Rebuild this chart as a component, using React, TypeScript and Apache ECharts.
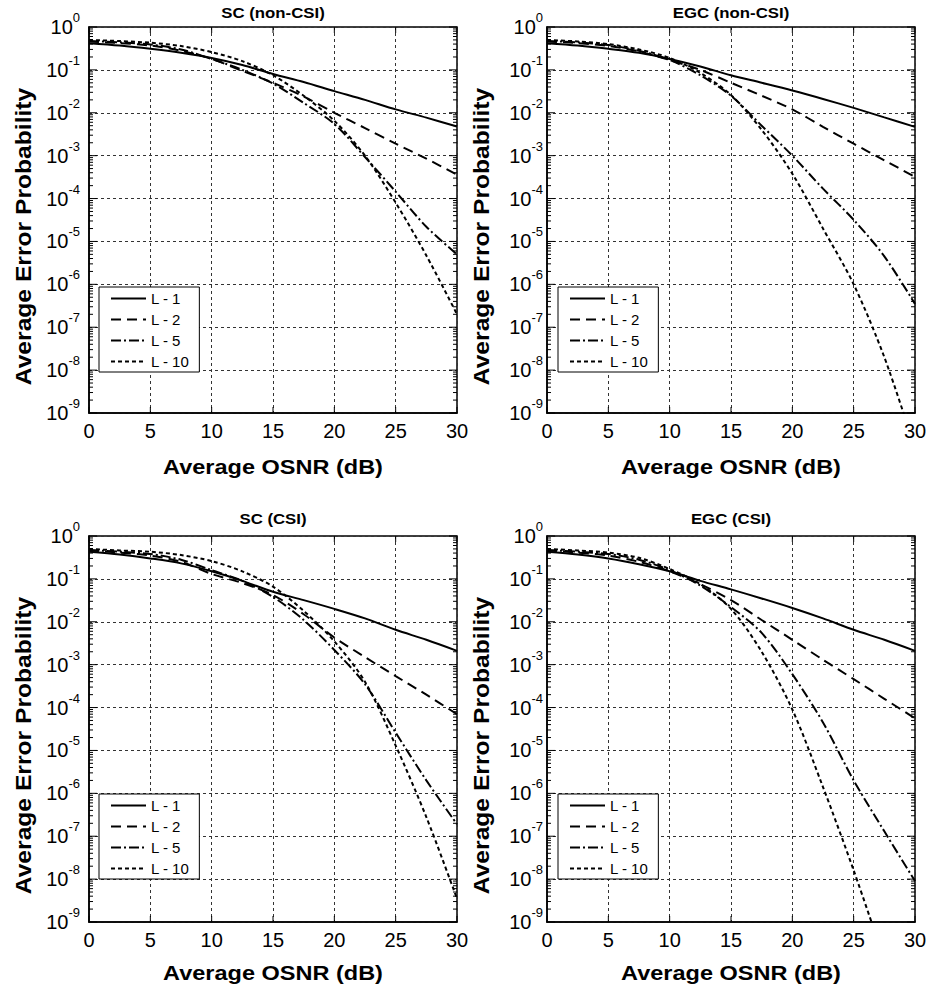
import React, { useEffect, useRef } from "react";
import * as echarts from "echarts";

// ---------- data ----------
const SNR_DB = [0, 2.5, 5, 7.5, 10, 12.5, 15, 17.5, 20, 22.5, 25, 27.5, 30];
const SERIES_NAMES = ["L - 1", "L - 2", "L - 5", "L - 10"];
const Y_EXPONENTS = [-9, -8, -7, -6, -5, -4, -3, -2, -1, 0];
const X_TICKS = [0, 5, 10, 15, 20, 25, 30];

// SC (non-CSI)
const scNon_L1 = [0.42, 0.37, 0.31, 0.25, 0.19, 0.13, 0.08, 0.052, 0.032, 0.02, 0.012, 0.0077, 0.0048];
const scNon_L2 = [0.46, 0.42, 0.37, 0.28, 0.18, 0.095, 0.05, 0.024, 0.01, 0.0044, 0.0019, 0.00085, 0.00036];
const scNon_L5 = [0.47, 0.44, 0.39, 0.3, 0.18, 0.1, 0.048, 0.017, 0.0055, 0.00093, 0.000145, 0.000022, 0.000005];
const scNon_L10 = [0.5, 0.47, 0.43, 0.36, 0.26, 0.16, 0.075, 0.025, 0.0065, 0.001, 0.00008, 0.0000047, 2e-7];

// EGC (non-CSI)
const egcNon_L1 = [0.42, 0.37, 0.31, 0.25, 0.18, 0.12, 0.075, 0.05, 0.033, 0.021, 0.013, 0.0078, 0.0047];
const egcNon_L2 = [0.46, 0.42, 0.36, 0.27, 0.17, 0.1, 0.05, 0.025, 0.012, 0.0047, 0.0019, 0.00078, 0.00032];
const egcNon_L5 = [0.47, 0.44, 0.38, 0.28, 0.17, 0.075, 0.025, 0.005, 0.001, 0.00017, 0.000032, 0.0000045, 3.5e-7];
const egcNon_L10 = [0.5, 0.46, 0.4, 0.3, 0.19, 0.085, 0.026, 0.004, 0.00038, 0.00002, 0.000001, 2e-8, 1.5e-10];

// SC (CSI)
const sc_L1 = [0.43, 0.37, 0.3, 0.23, 0.15, 0.09, 0.05, 0.032, 0.02, 0.012, 0.0065, 0.0038, 0.0021];
const sc_L2 = [0.46, 0.41, 0.35, 0.25, 0.13, 0.08, 0.042, 0.015, 0.0043, 0.0015, 0.00054, 0.0002, 0.00007];
const sc_L5 = [0.47, 0.43, 0.38, 0.28, 0.16, 0.09, 0.038, 0.011, 0.0022, 0.00035, 0.000026, 0.000002, 1.9e-7];
const sc_L10 = [0.5, 0.46, 0.43, 0.36, 0.26, 0.15, 0.066, 0.018, 0.0035, 0.0004, 0.000013, 2.8e-7, 3.5e-9];

// EGC (CSI)
const egc_L1 = [0.43, 0.37, 0.3, 0.22, 0.15, 0.09, 0.057, 0.035, 0.021, 0.012, 0.0065, 0.0038, 0.0021];
const egc_L2 = [0.46, 0.41, 0.35, 0.25, 0.15, 0.075, 0.032, 0.011, 0.0038, 0.0013, 0.00046, 0.00016, 0.000056];
const egc_L5 = [0.47, 0.43, 0.38, 0.28, 0.16, 0.07, 0.022, 0.0055, 0.0006, 0.000045, 0.000002, 1.3e-7, 9e-9];
const egc_L10 = [0.5, 0.46, 0.41, 0.31, 0.17, 0.075, 0.02, 0.002, 0.00009, 0.0000014, 1.6e-8, 1.3e-10, null];

const PANEL_TITLES = ["SC (non-CSI)", "EGC (non-CSI)", "SC (CSI)", "EGC (CSI)"];
const PANEL_DATA = [
  [scNon_L1, scNon_L2, scNon_L5, scNon_L10],
  [egcNon_L1, egcNon_L2, egcNon_L5, egcNon_L10],
  [sc_L1, sc_L2, sc_L5, sc_L10],
  [egc_L1, egc_L2, egc_L5, egc_L10],
];

// ---------- layout / style ----------
const FONT = "'Liberation Sans', Arial, Helvetica, sans-serif";
const LAYOUT = [
  { left: 89, top: 27, labelMargin: 9, legendLeft: 99, legendTop: 287, titleY: 12.5, xNameY: 466.5, yNameX: 23, yNameY: 236.5 },
  { left: 547, top: 27, labelMargin: 4, legendLeft: 558, legendTop: 287, titleY: 12.5, xNameY: 466.5, yNameX: 481, yNameY: 236.5 },
  { left: 89, top: 536, labelMargin: 9, legendLeft: 99, legendTop: 794, titleY: 518.5, xNameY: 973, yNameX: 23, yNameY: 745.5 },
  { left: 547, top: 536, labelMargin: 4, legendLeft: 558, legendTop: 794, titleY: 518.5, xNameY: 973, yNameX: 481, yNameY: 745.5 },
];
const GRID_W = 368;
const GRID_H = 386;
const DASHES: any[] = ["solid", [10, 6], [10, 3, 2, 3], [4, 3]];

function tickData() {
  const out: number[][] = [];
  for (const e of Y_EXPONENTS) {
    const base = Math.pow(10, e);
    out.push([0, base, 0, 8]);
    if (e < 0) {
      for (let k = 2; k <= 9; k++) out.push([0, k * base, 0, 4]);
    }
  }
  for (const x of X_TICKS) out.push([x, 1, 1, 6]);
  return out;
}

export default function App() {
  const ref = useRef<HTMLDivElement>(null);

  useEffect(() => {
    if (!ref.current) return;
    const chart = echarts.init(ref.current, undefined, { renderer: "svg" });

    const grid = LAYOUT.map((l) => ({
      left: l.left,
      top: l.top,
      width: GRID_W,
      height: GRID_H,
      show: true,
      borderColor: "#000",
      borderWidth: 1.5,
      backgroundColor: "#fff",
    }));

    const xAxis = LAYOUT.map((l, i) => ({
      type: "value",
      gridIndex: i,
      min: 0,
      max: 30,
      interval: 5,
      axisLine: { show: true, lineStyle: { color: "#000", width: 1.5 } },
      axisTick: { show: false },
      axisLabel: { fontSize: 20, color: "#000", margin: 8, fontFamily: FONT },
      splitLine: { show: true, lineStyle: { color: "#333", width: 1, type: [3, 3] } },
    }));

    const yAxis = LAYOUT.map((l, i) => ({
      type: "log",
      logBase: 10,
      gridIndex: i,
      min: 1e-9,
      max: 1,
      splitNumber: 9,
      axisLine: { show: true, lineStyle: { color: "#000", width: 1.5 } },
      axisTick: { show: false },
      axisLabel: {
        interval: 0,
        margin: l.labelMargin,
        color: "#000",
        fontFamily: FONT,
        formatter: (v: number) => `{b|10}{s|${Math.round(Math.log10(v))}}`,
        rich: {
          b: { fontSize: 20, lineHeight: 32, fontFamily: FONT, color: "#000" },
          s: { fontSize: 13, lineHeight: 13, verticalAlign: "top", fontFamily: FONT, color: "#000" },
        },
      },
      splitLine: { show: true, lineStyle: { color: "#333", width: 1, type: [3, 3] } },
    }));

    const series: any[] = [];
    PANEL_DATA.forEach((curves, i) => {
      curves.forEach((arr, j) => {
        series.push({
          type: "line",
          name: SERIES_NAMES[j],
          xAxisIndex: i,
          yAxisIndex: i,
          data: SNR_DB.map((x, k) => [x, arr[k]]).filter((p) => p[1] != null),
          symbol: "none",
          smooth: 0.3,
          clip: true,
          z: 4,
          lineStyle: { color: "#000", width: 2, type: DASHES[j] },
          itemStyle: { color: "#000" },
        });
      });
      series.push({
        type: "custom",
        xAxisIndex: i,
        yAxisIndex: i,
        silent: true,
        z: 3,
        data: tickData(),
        renderItem: (params: any, api: any) => {
          const cs = params.coordSys;
          const kind = api.value(2);
          const len = api.value(3);
          const st = { stroke: "#000", lineWidth: 1 };
          if (kind === 0) {
            const p = api.coord([0, api.value(1)]);
            return {
              type: "group",
              children: [
                { type: "line", shape: { x1: cs.x, y1: p[1], x2: cs.x + len, y2: p[1] }, style: st },
                { type: "line", shape: { x1: cs.x + cs.width - len, y1: p[1], x2: cs.x + cs.width, y2: p[1] }, style: st },
              ],
            };
          }
          const p = api.coord([api.value(0), 1]);
          return {
            type: "group",
            children: [
              { type: "line", shape: { x1: p[0], y1: cs.y, x2: p[0], y2: cs.y + len }, style: st },
              { type: "line", shape: { x1: p[0], y1: cs.y + cs.height - len, x2: p[0], y2: cs.y + cs.height }, style: st },
            ],
          };
        },
      });
    });

    const legend = LAYOUT.map((l) => ({
      show: true,
      data: SERIES_NAMES,
      orient: "vertical",
      left: l.legendLeft,
      top: l.legendTop,
      itemWidth: 35,
      itemHeight: 14,
      itemGap: 6,
      padding: [4, 10, 3, 11],
      borderColor: "#000",
      borderWidth: 1,
      borderRadius: 0,
      backgroundColor: "#fff",
      selectedMode: false,
      itemStyle: { opacity: 0, color: "transparent", borderWidth: 0 },
      lineStyle: { color: "#000", width: 2 },
      textStyle: { fontSize: 15, color: "#000", fontFamily: FONT, lineHeight: 14 },
    }));

    const graphic: any[] = [];
    LAYOUT.forEach((l, i) => {
      const cx = l.left + GRID_W / 2;
      graphic.push({
        type: "text",
        x: cx,
        y: l.titleY,
        scaleX: 1.12,
        style: { text: PANEL_TITLES[i], fontSize: 15, fontWeight: "bold", fontFamily: FONT, fill: "#000", align: "center", verticalAlign: "middle" },
      });
      graphic.push({
        type: "text",
        x: cx,
        y: l.xNameY,
        scaleX: 1.12,
        style: { text: "Average OSNR (dB)", fontSize: 21, fontWeight: "bold", fontFamily: FONT, fill: "#000", align: "center", verticalAlign: "middle" },
      });
      graphic.push({
        type: "text",
        x: l.yNameX,
        y: l.yNameY,
        rotation: Math.PI / 2,
        scaleX: 1.12,
        style: { text: "Average Error Probability", fontSize: 22, fontWeight: "bold", fontFamily: FONT, fill: "#000", align: "center", verticalAlign: "middle" },
      });
    });

    chart.setOption({
      animation: false,
      backgroundColor: "#fff",
      textStyle: { fontFamily: FONT },
      grid,
      xAxis,
      yAxis,
      legend,
      series,
      graphic,
    });

    return () => chart.dispose();
  }, []);

  return (
    <div
      ref={ref}
      style={{ position: "fixed", left: 0, top: 0, width: 932, height: 994, background: "#fff" }}
    />
  );
}
